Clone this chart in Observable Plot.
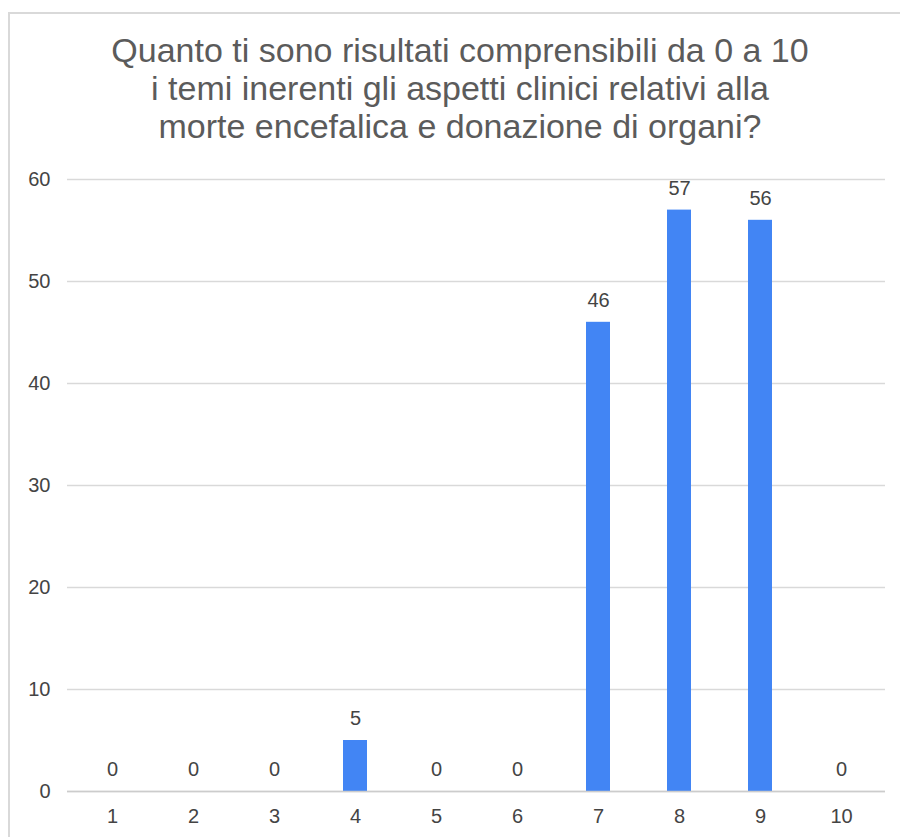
<!DOCTYPE html>
<html>
<head>
<meta charset="utf-8">
<script src="https://cdn.jsdelivr.net/npm/d3@7"></script>
<script src="https://cdn.jsdelivr.net/npm/@observablehq/plot@0.6"></script>
<style>
  html, body { margin: 0; padding: 0; background: #fff; }
  #wrap { position: relative; width: 900px; height: 837px; overflow: hidden; font-family: "Liberation Sans", Arial, sans-serif; }
  #frame { position: absolute; left: 8px; top: 12px; width: 1000px; height: 1000px; border-left: 2px solid #d9d9d9; border-top: 2px solid #d9d9d9; box-sizing: border-box; }
  #title { position: absolute; left: 0; top: 31px; width: 920px; text-align: center; font-size: 34px; line-height: 38px; color: #5b5b5b; white-space: nowrap; }
  #chart { position: absolute; left: 0; top: 160px; }
</style>
</head>
<body>
<div id="wrap">
  <div id="frame"></div>
  <div id="title">Quanto ti sono risultati comprensibili da 0 a 10<br>i temi inerenti gli aspetti clinici relativi alla<br>morte encefalica e donazione di organi?</div>
  <div id="chart"></div>
</div>
<script>
const categories = ["1", "2", "3", "4", "5", "6", "7", "8", "9", "10"];
const counts = [0, 0, 0, 5, 0, 0, 46, 57, 56, 0];
const yTicks = [0, 10, 20, 30, 40, 50, 60];

const data = categories.map((c, i) => ({ cat: c, value: counts[i] }));

const plot = Plot.plot({
  width: 900,
  height: 677,
  marginTop: 19,
  marginBottom: 46,
  marginLeft: 67,
  marginRight: 15,
  style: { fontFamily: "Liberation Sans, Arial, sans-serif", fontSize: "20px", color: "#444", background: "transparent" },
  x: { domain: categories, paddingInner: 0.706, paddingOuter: 0.353, label: null },
  y: { domain: [0, 60], label: null },
  marks: [
    Plot.ruleY(yTicks, { stroke: "#d9d9d9", strokeWidth: 1.3 }),
    Plot.barY(data, { x: "cat", y: "value", fill: "#4285F4" }),
    Plot.ruleY([0], { stroke: "#cccccc", strokeWidth: 1.5 }),
    Plot.text(data, { x: "cat", y: "value", text: d => String(d.value), dy: -22, fill: "#444", fontSize: 20 }),
    Plot.axisY({ ticks: yTicks, tickSize: 0, tickPadding: 17, label: null, fontSize: 20, color: "#444" }),
    Plot.axisX({ tickSize: 0, tickPadding: 17, label: null, fontSize: 20, color: "#444" })
  ]
});
document.getElementById("chart").appendChild(plot);
</script>
</body>
</html>
